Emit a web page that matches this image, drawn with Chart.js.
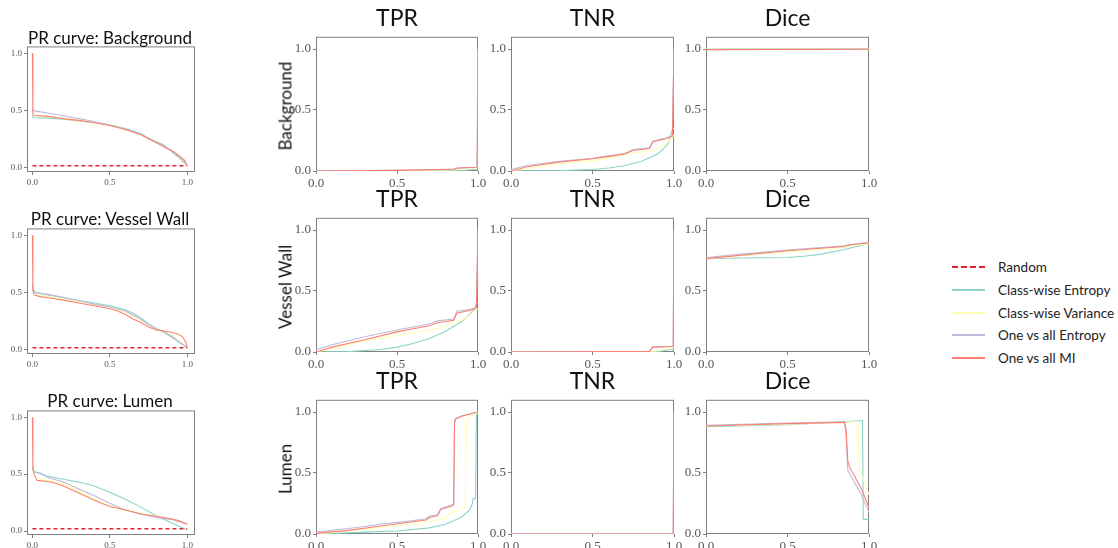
<!DOCTYPE html>
<html>
<head>
<meta charset="utf-8">
<script src="https://cdn.jsdelivr.net/npm/chart.js@4"></script>
<style>
body{margin:0;background:#fff;width:1118px;height:548px;position:relative;overflow:hidden;font-family:Lato,sans-serif}
canvas{position:absolute}
.t{position:absolute;color:#111;white-space:nowrap;transform:translate(-50%,-50%)}
.rl{position:absolute;color:#111;white-space:nowrap;font-size:17px;transform:translate(-50%,-50%) rotate(-90deg)}
#legend{position:absolute;left:952px;top:256px;font-size:13.5px;color:#222}
#legend div{height:22.7px;display:flex;align-items:center}
#legend span{display:inline-block;width:33px;margin-right:13px}
</style>
</head>
<body>
<div id="legend"></div>
<script>
// series, in legend order
const seriesNames = ['Class-wise Entropy', 'Class-wise Variance', 'One vs all Entropy', 'One vs all MI'];
const seriesColors = ['#8dd3c7', '#ffffb3', '#bebada', '#fb8072'];
const randomColor = '#e8202a';
const rowNames = ['Background', 'Vessel Wall', 'Lumen'];
const colNames = ['TPR', 'TNR', 'Dice'];
const tickVals = [0, 0.5, 1];
const randomLine = [[0, 0.02], [1, 0.02]];

// PR curves: [recall, precision]
const prBgEnt = [[0,0.46],[0.005,0.44],[0.1,0.435],[0.2,0.425],[0.3,0.41],[0.4,0.395],[0.5,0.375],[0.6,0.345],[0.7,0.3],[0.75,0.26],[0.85,0.2],[0.9,0.14],[0.95,0.085],[0.99,0.03]];
const prBgVar = [[0,0.48],[0.005,0.46],[0.1,0.45],[0.2,0.43],[0.3,0.415],[0.4,0.395],[0.5,0.37],[0.6,0.335],[0.7,0.29],[0.8,0.22],[0.9,0.15],[0.95,0.1],[0.99,0.04]];
const prBgOva = [[0,0.52],[0.005,0.5],[0.1,0.48],[0.2,0.455],[0.3,0.43],[0.4,0.405],[0.5,0.375],[0.6,0.34],[0.7,0.295],[0.8,0.225],[0.9,0.15],[0.95,0.1],[0.99,0.04]];
const prBgMi = [[0,1.0],[0.003,0.47],[0.01,0.46],[0.1,0.45],[0.2,0.43],[0.3,0.415],[0.4,0.395],[0.5,0.37],[0.6,0.335],[0.7,0.29],[0.8,0.22],[0.85,0.185],[0.9,0.15],[0.95,0.105],[0.98,0.07],[0.995,0.04],[1.0,0.02]];

const prVwEnt = [[0,0.57],[0.005,0.53],[0.02,0.5],[0.1,0.48],[0.2,0.455],[0.3,0.43],[0.4,0.41],[0.5,0.385],[0.6,0.35],[0.65,0.32],[0.7,0.28],[0.75,0.23],[0.8,0.19],[0.9,0.11],[1.0,0.02]];
const prVwVar = [[0,0.5],[0.02,0.48],[0.1,0.465],[0.2,0.445],[0.3,0.42],[0.4,0.395],[0.5,0.37],[0.6,0.33],[0.7,0.26],[0.8,0.18],[0.9,0.13],[1.0,0.02]];
const prVwOva = [[0,0.52],[0.02,0.5],[0.1,0.485],[0.2,0.46],[0.3,0.43],[0.4,0.4],[0.5,0.375],[0.6,0.34],[0.7,0.27],[0.75,0.22],[0.8,0.18],[0.85,0.16],[0.9,0.12],[1.0,0.02]];
const prVwMi = [[0,1.0],[0.003,0.52],[0.01,0.48],[0.05,0.465],[0.1,0.455],[0.2,0.435],[0.3,0.41],[0.4,0.385],[0.5,0.36],[0.55,0.34],[0.6,0.31],[0.65,0.27],[0.7,0.24],[0.75,0.2],[0.8,0.175],[0.85,0.165],[0.9,0.155],[0.94,0.14],[0.97,0.115],[0.99,0.07],[1.0,0.02]];

const prLuEnt = [[0,0.58],[0.01,0.52],[0.05,0.51],[0.1,0.48],[0.2,0.455],[0.3,0.43],[0.4,0.395],[0.5,0.34],[0.6,0.28],[0.7,0.21],[0.8,0.135],[0.9,0.07],[1.0,0.01]];
const prLuVar = [[0,0.5],[0.03,0.46],[0.1,0.445],[0.2,0.41],[0.3,0.35],[0.4,0.28],[0.5,0.22],[0.6,0.19],[0.7,0.155],[0.8,0.13],[0.9,0.105],[1.0,0.06]];
const prLuOva = [[0,0.55],[0.01,0.52],[0.05,0.505],[0.1,0.47],[0.2,0.43],[0.3,0.37],[0.4,0.31],[0.5,0.245],[0.6,0.185],[0.7,0.15],[0.8,0.12],[0.9,0.1],[1.0,0.06]];
const prLuMi = [[0,1.0],[0.003,0.55],[0.01,0.5],[0.03,0.445],[0.1,0.435],[0.15,0.42],[0.2,0.395],[0.3,0.335],[0.4,0.27],[0.5,0.215],[0.6,0.185],[0.7,0.15],[0.8,0.13],[0.9,0.105],[0.95,0.09],[1.0,0.06]];

// Background row
const tprBgEnt = [[0,0],[0.9,0.004],[0.97,0.012],[0.995,0.02],[1.0,1.0]];
const tprBgVar = [[0,0],[0.85,0.008],[0.97,0.02],[0.995,0.025],[1.0,1.0]];
const tprBgOva = [[0,0.002],[0.5,0.006],[0.85,0.015],[0.9,0.024],[0.995,0.03],[1.0,1.0]];
const tprBgMi = [[0,0],[0.5,0.005],[0.85,0.014],[0.87,0.024],[0.995,0.03],[1.0,1.0]];
const tnrBgEnt = [[0,0],[0.3,0.003],[0.5,0.012],[0.6,0.025],[0.7,0.045],[0.8,0.08],[0.9,0.14],[0.95,0.2],[0.97,0.24],[0.98,0.3],[0.99,0.34],[1.0,0.35]];
const tnrBgVar = [[0,0],[0.3,0.06],[0.5,0.085],[0.7,0.13],[0.75,0.15],[0.85,0.16],[0.9,0.18],[0.95,0.22],[0.99,0.27],[1.0,0.3]];
const tnrBgOva = [[0,0.012],[0.1,0.045],[0.3,0.08],[0.5,0.105],[0.6,0.125],[0.7,0.145],[0.75,0.175],[0.85,0.19],[0.87,0.245],[0.95,0.27],[0.99,0.29],[1.0,1.0]];
const tnrBgMi = [[0,0],[0.1,0.035],[0.3,0.075],[0.5,0.1],[0.6,0.12],[0.7,0.14],[0.75,0.17],[0.85,0.185],[0.87,0.24],[0.95,0.265],[0.99,0.285],[1.0,1.0]];
const diceBgEnt = [[0,0.998],[1,1.0]];
const diceBgVar = [[0,0.998],[1,1.0]];
const diceBgOva = [[0,0.997],[1,1.0]];
const diceBgMi = [[0,0.995],[1,0.998]];

// Vessel Wall row
const tprVwEnt = [[0,0],[0.2,0.003],[0.4,0.02],[0.5,0.04],[0.6,0.07],[0.7,0.11],[0.8,0.17],[0.9,0.25],[0.95,0.31],[0.98,0.35],[0.99,0.4],[1.0,0.4]];
const tprVwVar = [[0,0],[0.3,0.09],[0.5,0.135],[0.7,0.18],[0.78,0.2],[0.8,0.215],[0.9,0.26],[0.95,0.3],[0.98,0.34],[1.0,0.36]];
const tprVwOva = [[0,0.02],[0.1,0.06],[0.3,0.125],[0.5,0.18],[0.6,0.205],[0.7,0.23],[0.75,0.255],[0.85,0.27],[0.87,0.335],[0.95,0.35],[0.99,0.365],[1.0,1.0]];
const tprVwMi = [[0,0],[0.1,0.04],[0.3,0.1],[0.5,0.165],[0.6,0.19],[0.7,0.215],[0.75,0.24],[0.85,0.26],[0.87,0.32],[0.95,0.34],[0.99,0.36],[1.0,1.0]];
const tnrVwEnt = [[0,0],[0.9,0.003],[0.98,0.02],[1.0,0.03]];
const tnrVwVar = [[0,0],[0.88,0.006],[0.98,0.03],[1.0,0.04]];
const tnrVwOva = [[0,0.002],[0.85,0.006],[0.87,0.042],[0.995,0.047],[1.0,1.0]];
const tnrVwMi = [[0,0],[0.85,0.005],[0.87,0.04],[0.995,0.045],[1.0,1.0]];
const diceVwEnt = [[0,0.765],[0.2,0.77],[0.5,0.775],[0.6,0.785],[0.7,0.8],[0.85,0.84],[1.0,0.89]];
const diceVwVar = [[0,0.765],[0.5,0.82],[0.8,0.85],[1.0,0.89]];
const diceVwOva = [[0,0.775],[0.2,0.8],[0.5,0.835],[0.85,0.87],[1.0,0.9]];
const diceVwMi = [[0,0.765],[0.5,0.83],[0.85,0.865],[0.87,0.877],[1.0,0.895]];

// Lumen row
const tprLuEnt = [[0,0],[0.3,0.015],[0.5,0.025],[0.7,0.05],[0.8,0.08],[0.9,0.14],[0.95,0.2],[0.965,0.25],[0.97,0.29],[0.985,0.29],[0.99,0.97],[1.0,1.0]];
const tprLuVar = [[0,0],[0.3,0.04],[0.5,0.065],[0.7,0.1],[0.8,0.13],[0.83,0.17],[0.92,0.22],[0.93,0.94],[0.95,0.96],[1.0,1.0]];
const tprLuOva = [[0,0.015],[0.2,0.045],[0.4,0.08],[0.6,0.11],[0.68,0.125],[0.7,0.145],[0.75,0.16],[0.77,0.21],[0.84,0.24],[0.85,0.25],[0.855,0.9],[0.86,0.945],[0.9,0.97],[1.0,1.0]];
const tprLuMi = [[0,0.005],[0.2,0.03],[0.4,0.065],[0.6,0.1],[0.68,0.115],[0.7,0.135],[0.75,0.15],[0.77,0.2],[0.84,0.23],[0.85,0.24],[0.855,0.9],[0.86,0.94],[0.9,0.965],[1.0,1.0]];
const tnrLuEnt = [[0,0],[0.995,0.001],[1.0,0.005]];
const tnrLuVar = [[0,0],[0.995,0.001],[1.0,0.005]];
const tnrLuOva = [[0,0.001],[0.995,0.002],[1.0,1.0]];
const tnrLuMi = [[0,0],[0.995,0.002],[1.0,1.0]];
const diceLuEnt = [[0,0.88],[0.5,0.895],[0.85,0.92],[0.96,0.93],[0.965,0.12],[1.0,0.12]];
const diceLuVar = [[0,0.885],[0.5,0.9],[0.93,0.92],[0.935,0.85],[0.94,0.55],[0.97,0.43],[1.0,0.32]];
const diceLuOva = [[0,0.89],[0.5,0.91],[0.85,0.92],[0.86,0.8],[0.87,0.52],[0.95,0.33],[1.0,0.18]];
const diceLuMi = [[0,0.885],[0.5,0.905],[0.85,0.915],[0.86,0.85],[0.87,0.6],[0.88,0.55],[0.95,0.38],[0.99,0.25],[1.0,0.21]];

const prData = [
  [prBgEnt, prBgVar, prBgOva, prBgMi],
  [prVwEnt, prVwVar, prVwOva, prVwMi],
  [prLuEnt, prLuVar, prLuOva, prLuMi]
];
const gridData = [
  [[tprBgEnt, tprBgVar, tprBgOva, tprBgMi], [tnrBgEnt, tnrBgVar, tnrBgOva, tnrBgMi], [diceBgEnt, diceBgVar, diceBgOva, diceBgMi]],
  [[tprVwEnt, tprVwVar, tprVwOva, tprVwMi], [tnrVwEnt, tnrVwVar, tnrVwOva, tnrVwMi], [diceVwEnt, diceVwVar, diceVwOva, diceVwMi]],
  [[tprLuEnt, tprLuVar, tprLuOva, tprLuMi], [tnrLuEnt, tnrLuVar, tnrLuOva, tnrLuMi], [diceLuEnt, diceLuVar, diceLuOva, diceLuMi]]
];

// box around every axes
const frame = {
  id: 'frame',
  beforeDatasetsDraw(c) {
    const a = c.chartArea, ctx = c.ctx;
    ctx.save();
    ctx.strokeStyle = '#808080';
    ctx.lineWidth = 1;
    ctx.strokeRect(a.left + 0.5, a.top + 0.5, a.right - a.left - 1, a.bottom - a.top - 1);
    ctx.restore();
  }
};

function addText(txt, x, y, size, cls) {
  const d = document.createElement('div');
  d.className = cls || 't';
  d.style.left = x + 'px';
  d.style.top = y + 'px';
  d.style.fontSize = size + 'px';
  d.textContent = txt;
  document.body.appendChild(d);
}

function plot(box, xr, yr, sets, small) {
  const fs = small ? 9 : 13;
  const yW = small ? 26 : 34, xH = small ? 14 : 18, pt = 6, pr = 12;
  const w = box[2] - box[0] + yW + pr, h = box[3] - box[1] + pt + xH;
  const cv = document.createElement('canvas');
  cv.width = w; cv.height = h;
  cv.style.left = (box[0] - yW) + 'px';
  cv.style.top = (box[1] - pt) + 'px';
  cv.style.width = w + 'px'; cv.style.height = h + 'px';
  document.body.appendChild(cv);
  const axis = (r, isX) => ({
    type: 'linear', min: r[0], max: r[1],
    afterBuildTicks: s => { s.ticks = tickVals.map(v => ({ value: v })); },
    afterFit: s => { if (isX) s.height = xH; else s.width = yW; },
    ticks: { font: { family: 'Liberation Serif', size: fs }, color: '#555', padding: 2, maxRotation: 0, autoSkip: false,
      callback: v => v.toFixed(1) },
    grid: { display: true, drawOnChartArea: false, drawTicks: true, tickLength: 3, color: '#808080' },
    border: { display: false }
  });
  return new Chart(cv, {
    type: 'line',
    data: { datasets: sets },
    options: {
      responsive: false, animation: false,
      layout: { padding: { left: 0, top: pt, right: pr, bottom: 0 } },
      plugins: { legend: { display: false }, tooltip: { enabled: false } },
      elements: { point: { radius: 0 }, line: { tension: 0, borderWidth: 1.1 } },
      scales: { x: axis(xr, true), y: axis(yr, false) }
    },
    plugins: [frame]
  });
}

function lineSets(group) {
  return group.map((pts, i) => ({
    label: seriesNames[i], data: pts, borderColor: seriesColors[i],
    borderWidth: 1.1, fill: false, order: 4 - i
  }));
}

// PR column
const prBoxes = [[27, 45, 195, 172], [27, 227, 195, 354], [27, 409, 195, 535]];
const prTitleY = [37, 218, 400];
prData.forEach((group, r) => {
  const sets = [{ label: 'Random', data: randomLine, borderColor: randomColor, borderDash: [4, 3], borderWidth: 1.5, fill: false, order: 0 }]
    .concat(lineSets(group));
  plot(prBoxes[r], [-0.035, 1.05], [-0.035, 1.06], sets, true);
  addText('PR curve: ' + rowNames[r], 110, prTitleY[r], 17);
});

// TPR / TNR / Dice grid
const colX = [[316, 478], [511, 674], [706, 869]];
const rowY = [[33, 171], [214, 352], [396, 534]];
rowY.forEach((ry, r) => {
  colX.forEach((cx, c) => {
    plot([cx[0], ry[0], cx[1], ry[1]], [0, 1], [0, 1.1], lineSets(gridData[r][c]), false);
    addText(colNames[c], (cx[0] + cx[1]) / 2, ry[0] - 16, 23);
  });
  addText(rowNames[r], 285, (ry[0] + ry[1]) / 2 + 4, 17, 'rl');
});

// legend
const lg = document.getElementById('legend');
[['Random', randomColor, true]].concat(seriesNames.map((n, i) => [n, seriesColors[i], false])).forEach(e => {
  const row = document.createElement('div');
  const sw = document.createElement('span');
  sw.style.borderTop = (e[2] ? '2px dashed ' : '2px solid ') + e[1];
  row.appendChild(sw);
  row.appendChild(document.createTextNode(e[0]));
  lg.appendChild(row);
});
</script>
</body>
</html>
